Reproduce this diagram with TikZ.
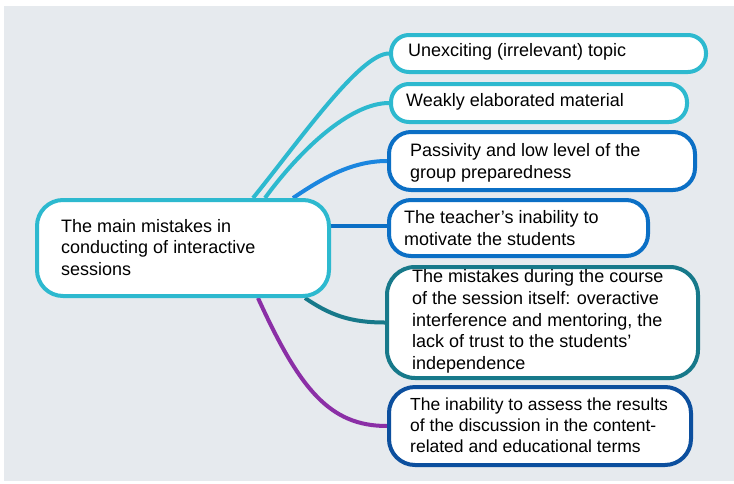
\documentclass[tikz,border=0pt]{standalone}
\usepackage{fontspec}
\setmainfont{Liberation Sans}
\pgfdeclarelayer{panel}
\pgfdeclarelayer{links}
\pgfsetlayers{panel,links,main}
\begin{document}
\definecolor{bgpanel}{HTML}{E6EAEE}
\definecolor{cyanline}{HTML}{2DB9CF}
\definecolor{blueline}{HTML}{0B6FC5}
\definecolor{lightblue}{HTML}{1B86DF}
\definecolor{tealline}{HTML}{17798A}
\definecolor{navyline}{HTML}{0C4F9E}
\definecolor{purpleline}{HTML}{8B2FA6}
\begin{tikzpicture}[x=1pt,y=-1pt,
  box/.style={draw, line width=4pt, fill=white, rounded corners=18pt, inner sep=0pt},
  caption/.style={anchor=west, align=left, inner sep=0pt, text=black,
    font=\fontsize{18}{21.7}\selectfont},
  link/.style={line width=4pt}]
  \useasboundingbox (0,0) rectangle (734,483);
  \begin{pgfonlayer}{panel}
    \fill[bgpanel] (4,6) rectangle (734,481);
  \end{pgfonlayer}

  % central topic
  \node[box, draw=cyanline, minimum width=292pt, minimum height=96pt,
        rounded corners=26pt] (c) at (183,248) {};
  \node[caption] (ct) at (61,247.5)
    {The main mistakes in\\conducting of interactive\\sessions};

  % branches
  \node[box, draw=cyanline, minimum width=315pt, minimum height=37pt] (b1) at (548.5,53.5) {};
  \node[caption] (t1) at (408,52) {Unexciting (irrelevant) topic};

  \node[box, draw=cyanline, minimum width=296pt, minimum height=38pt] (b2) at (539,103) {};
  \node[caption] (t2) at (406,101.5) {Weakly elaborated material};

  \node[box, draw=blueline, minimum width=306pt, minimum height=58pt,
        rounded corners=22pt] (b3) at (542,161) {};
  \node[caption] (t3) at (410,162.5) {Passivity and low level of the\\group preparedness};

  \node[box, draw=blueline, minimum width=259pt, minimum height=56pt,
        rounded corners=22pt] (b4) at (518.5,228) {};
  \node[caption] (t4) at (404,228) {The teacher’s inability to\\motivate the students};

  \node[box, draw=tealline, minimum width=311pt, minimum height=111pt,
        rounded corners=28pt] (b5) at (542.5,322.5) {};
  \node[caption] (t5) at (412,321.5)
    {The mistakes during the course\\of the session itself: overactive\\interference and mentoring, the\\lack of trust to the students’\\independence};

  \node[box, draw=navyline, minimum width=302pt, minimum height=78pt,
        rounded corners=26pt] (b6) at (540,426) {};
  \node[caption, font=\fontsize{17.5}{21.2}\selectfont] (t6) at (410,425)
    {The inability to assess the results\\of the discussion in the content-\\related and educational terms};

  % connectors, behind the boxes
  \begin{pgfonlayer}{links}
    \draw[link, cyanline] ([xshift=70pt]c.north) .. controls (300,140) and (360,53.5) .. (b1.west);
    \draw[link, cyanline] ([xshift=82pt]c.north) .. controls (300,150) and (350,103) .. (b2.west);
    \draw[link, lightblue] ([xshift=110pt]c.north) .. controls (320,180) and (350,161) .. (b3.west);
    \draw[link, blueline] ([yshift=2pt]b4.west -| c.east) -- ([yshift=2pt]b4.west);
    \draw[link, tealline] ([xshift=122pt]c.south) .. controls (330,315) and (350,322.5) .. (b5.west);
    \draw[link, purpleline] ([xshift=75pt]c.south) .. controls (300,390) and (330,426) .. (b6.west);
  \end{pgfonlayer}
\end{tikzpicture}
\end{document}
